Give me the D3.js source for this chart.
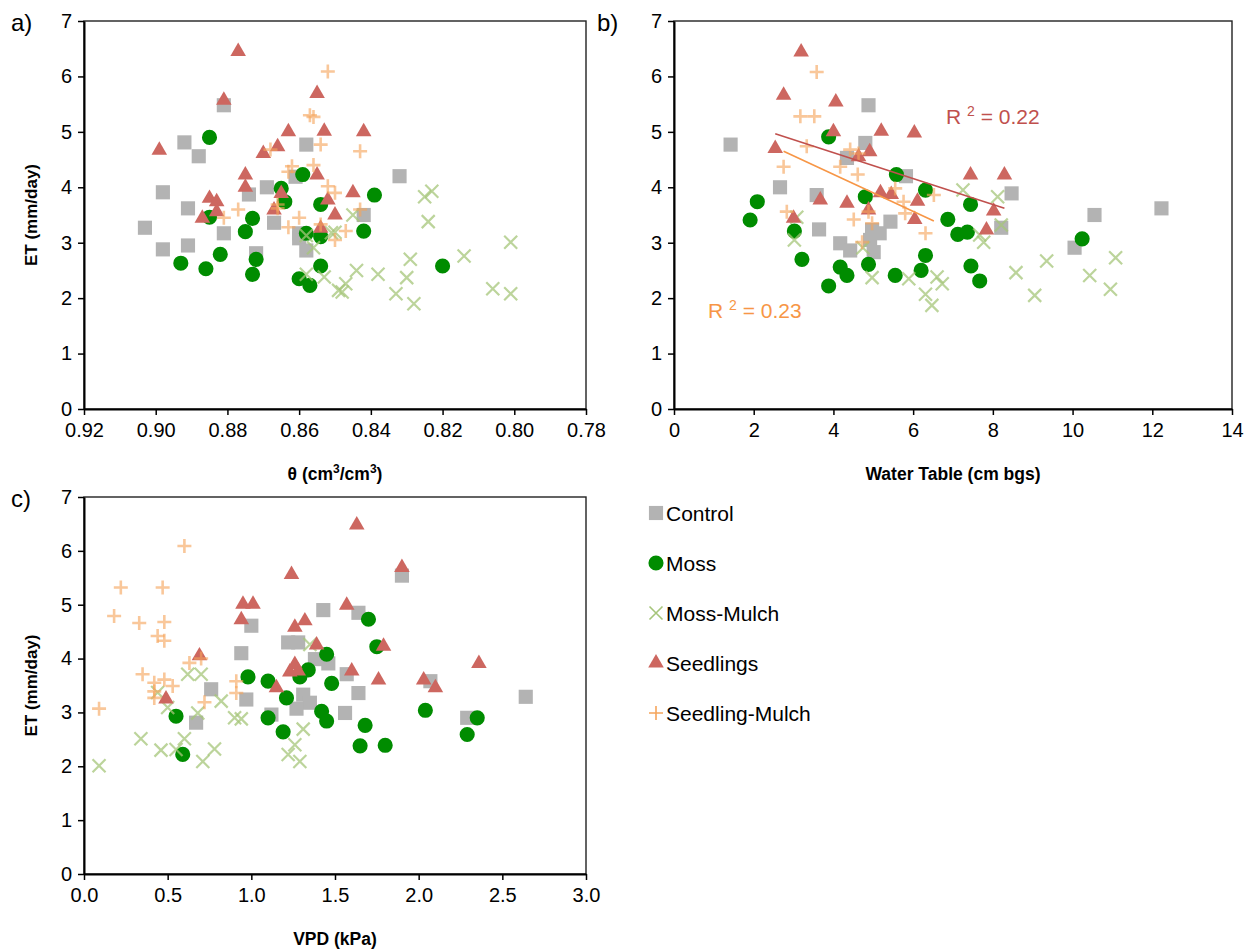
<!DOCTYPE html>
<html>
<head>
<meta charset="utf-8">
<script src="https://cdn.jsdelivr.net/npm/d3@7"></script>
<style>
  body { margin: 0; background: #fff; }
  svg { font-family: "Liberation Sans", Arial, sans-serif; }
</style>
</head>
<body>
<svg id="chart" width="1257" height="951"></svg>
<script>
// series names, in drawing order
var seriesNames = ['Control', 'Moss', 'Moss-Mulch', 'Seedlings', 'Seedling-Mulch']
var etTicks = [0, 1, 2, 3, 4, 5, 6, 7]
var thetaTicks = [0.92, 0.90, 0.88, 0.86, 0.84, 0.82, 0.80, 0.78]
var wtTicks = [0, 2, 4, 6, 8, 10, 12, 14]
var vpdTicks = [0, 0.5, 1, 1.5, 2, 2.5, 3]

// a) theta vs ET  [theta, ET]
var aControl = [[0.881,5.48],[0.892,4.81],[0.888,4.56],[0.858,4.77],[0.898,3.91],[0.869,4.00],[0.874,3.87],[0.861,4.19],[0.891,3.62],[0.903,3.27],[0.881,3.17],[0.867,3.36],[0.891,2.95],[0.898,2.88],[0.860,3.08],[0.858,2.86],[0.872,2.81],[0.860,3.17],[0.832,4.20],[0.842,3.50]]
var aMoss = [[0.885,4.90],[0.859,4.23],[0.865,3.98],[0.864,3.74],[0.854,3.69],[0.885,3.46],[0.873,3.44],[0.875,3.20],[0.893,2.63],[0.886,2.53],[0.882,2.79],[0.872,2.70],[0.873,2.43],[0.858,3.17],[0.854,3.11],[0.854,2.58],[0.860,2.35],[0.857,2.23],[0.839,3.86],[0.842,3.21],[0.820,2.58]]
var aMossMulch = [[0.858,3.13],[0.856,2.91],[0.851,3.18],[0.858,2.43],[0.853,2.38],[0.849,2.14],[0.845,3.50],[0.850,3.19],[0.825,3.83],[0.823,3.93],[0.824,3.38],[0.829,2.70],[0.814,2.76],[0.801,3.01],[0.844,2.50],[0.838,2.43],[0.830,2.37],[0.847,2.26],[0.848,2.11],[0.833,2.08],[0.828,1.90],[0.806,2.17],[0.801,2.08]]
var aSeedlings = [[0.877,6.45],[0.881,5.57],[0.899,4.67],[0.855,5.69],[0.863,5.00],[0.853,5.01],[0.866,4.73],[0.870,4.61],[0.875,4.22],[0.875,4.00],[0.855,4.22],[0.865,3.89],[0.852,3.77],[0.885,3.80],[0.883,3.74],[0.883,3.56],[0.887,3.44],[0.867,3.59],[0.850,3.50],[0.854,3.26],[0.842,5.00],[0.845,3.90]]
var aSeedMulch = [[0.852,6.09],[0.857,5.30],[0.856,5.27],[0.854,4.77],[0.868,4.68],[0.862,4.38],[0.863,4.28],[0.856,4.40],[0.852,4.02],[0.850,3.90],[0.866,3.69],[0.866,3.62],[0.877,3.60],[0.881,3.45],[0.860,3.45],[0.863,3.28],[0.854,3.33],[0.850,3.05],[0.843,4.65],[0.843,3.60],[0.847,3.21]]

// b) water table vs ET  [cm bgs, ET]
var bControl = [[1.42,4.77],[4.88,5.48],[4.80,4.80],[4.34,4.53],[5.82,4.20],[2.66,4.00],[3.58,3.86],[3.64,3.24],[5.43,3.38],[4.97,3.23],[5.16,3.17],[4.17,2.99],[4.42,2.86],[4.92,3.05],[5.01,2.83],[8.47,3.89],[8.21,3.27],[10.55,3.50],[12.23,3.62],[10.05,2.91]]
var bMoss = [[3.88,4.91],[5.58,4.23],[6.31,3.95],[4.80,3.83],[2.09,3.74],[1.91,3.41],[3.02,3.21],[6.87,3.42],[7.12,3.15],[3.21,2.70],[4.17,2.56],[4.34,2.41],[4.88,2.61],[5.55,2.41],[6.31,2.77],[6.20,2.50],[3.88,2.22],[7.44,3.69],[7.36,3.19],[7.45,2.58],[7.67,2.31],[10.24,3.07]]
var bMossMulch = [[3.08,3.46],[3.02,3.05],[4.74,2.91],[4.97,2.37],[5.89,2.35],[6.60,2.38],[6.73,2.26],[6.31,2.07],[6.47,1.87],[7.25,3.95],[8.12,3.83],[8.21,3.32],[7.67,3.14],[7.77,3.01],[8.58,2.46],[9.35,2.67],[9.05,2.05],[10.43,2.41],[11.08,2.73],[10.95,2.16]]
var bSeedlings = [[3.19,6.44],[2.75,5.66],[4.06,5.54],[5.20,5.01],[6.03,4.98],[4.00,5.00],[2.54,4.70],[4.63,4.55],[4.91,4.64],[5.18,3.90],[5.45,3.87],[6.11,3.75],[3.67,3.77],[4.34,3.71],[4.88,3.59],[6.04,3.42],[3.00,3.44],[7.44,4.22],[8.29,4.22],[8.02,3.57],[7.84,3.23]]
var bSeedMulch = [[3.58,6.08],[3.17,5.28],[3.52,5.28],[3.33,4.74],[4.42,4.68],[4.63,4.61],[2.75,4.37],[4.17,4.37],[4.61,4.23],[5.55,3.98],[6.52,3.86],[5.76,3.74],[2.83,3.56],[4.88,3.56],[5.80,3.53],[4.51,3.42],[6.31,3.17],[4.97,3.35],[4.72,3.01]]
// linear trends shown in b)  [slope, intercept, R2 label]
var trendSeedlings = [-0.234, 5.56, '0.22']
var trendSeedMulch = [-0.334, 5.57, '0.23']

// c) VPD vs ET  [kPa, ET]
var cControl = [[1.43,4.90],[1.00,4.61],[0.94,4.10],[1.22,4.30],[1.28,4.30],[1.38,3.99],[1.46,3.91],[0.76,3.43],[0.97,3.24],[1.31,3.33],[1.35,3.18],[1.27,3.07],[1.12,2.96],[0.67,2.81],[1.90,5.54],[1.64,4.85],[1.57,3.71],[1.64,3.36],[1.56,2.99],[2.07,3.58],[2.64,3.29],[2.29,2.90]]
var cMoss = [[1.45,4.08],[1.34,3.79],[0.98,3.66],[1.10,3.58],[1.29,3.66],[1.21,3.27],[1.48,3.54],[0.55,2.93],[1.10,2.90],[1.42,3.02],[1.45,2.84],[1.19,2.64],[0.59,2.22],[1.70,4.73],[1.75,4.22],[2.04,3.04],[1.68,2.76],[1.65,2.38],[1.80,2.39],[2.35,2.90],[2.29,2.59]]
var cMossMulch = [[0.09,2.01],[0.34,2.51],[0.46,2.30],[0.60,2.51],[0.55,2.31],[0.71,2.09],[0.78,2.32],[0.62,3.71],[0.70,3.71],[0.44,3.37],[0.50,3.09],[0.68,2.99],[0.82,3.21],[0.90,2.90],[0.94,2.88],[1.35,4.26],[1.31,2.69],[1.26,2.40],[1.22,2.22],[1.29,2.09]]
var cSeedlings = [[1.24,5.56],[0.95,5.01],[1.01,5.01],[0.94,4.72],[1.26,4.58],[1.32,4.70],[1.39,4.25],[0.69,4.05],[1.26,3.89],[1.23,3.75],[1.28,3.77],[1.15,3.46],[0.49,3.25],[1.63,6.48],[1.90,5.69],[1.57,4.99],[1.79,4.23],[1.60,3.77],[1.76,3.60],[2.03,3.60],[2.10,3.46],[2.36,3.91]]
var cSeedMulch = [[0.60,6.09],[0.22,5.32],[0.47,5.32],[0.18,4.79],[0.33,4.66],[0.48,4.68],[0.44,4.42],[0.48,4.33],[0.63,3.92],[0.70,4.00],[0.35,3.71],[0.42,3.55],[0.48,3.61],[0.53,3.49],[0.42,3.39],[0.42,3.27],[0.91,3.58],[0.91,3.36],[0.72,3.19],[0.09,3.07]]

var svg = d3.select('#chart')

var colors = {
  'Control': '#b3b3b3',
  'Moss': '#008c00',
  'Moss-Mulch': '#a6c57a',
  'Seedlings': '#cd6760',
  'Seedling-Mulch': '#f5a55c'
}

/**
 * Draws one marker of the given series at the origin of g
 */
function drawMarker (g, name, legend) {
  var c = colors[name]
  if (name === 'Control') {
    g.append('path').attr('d', d3.symbol(d3.symbolSquare, 200)()).attr('fill', c)
  } else if (name === 'Moss') {
    g.append('path').attr('d', d3.symbol(d3.symbolCircle, 180)()).attr('fill', c)
  } else if (name === 'Seedlings') {
    g.append('path').attr('d', d3.symbol(d3.symbolTriangle, 105)()).attr('fill', c)
  } else if (name === 'Moss-Mulch') {
    var r = 6.5
    g.append('path').attr('d', `M${-r},${-r}L${r},${r}M${-r},${r}L${r},${-r}`)
      .attr('stroke', c).attr('stroke-width', legend ? 1.6 : 2.2).attr('fill', 'none')
      .attr('opacity', legend ? 1 : 0.75)
  } else {
    var p = 7
    g.append('path').attr('d', `M${-p},0L${p},0M0,${-p}L0,${p}`)
      .attr('stroke', c).attr('stroke-width', legend ? 1.6 : 2.6).attr('fill', 'none')
      .attr('opacity', legend ? 1 : 0.62)
  }
}

/**
 * Draws one scatter panel with its frame, axes and series
 */
function drawPanel (opt) {
  var x = d3.scaleLinear().domain(opt.xDomain).range([opt.left, opt.right])
  var y = d3.scaleLinear().domain([0, 7]).range([opt.bottom, opt.top])

  // frame
  svg.append('rect')
    .attr('x', opt.left).attr('y', opt.top)
    .attr('width', opt.right - opt.left).attr('height', opt.bottom - opt.top)
    .attr('fill', 'none').attr('stroke', '#222').attr('stroke-width', 1.4)

  var xAxis = svg.append('g')
    .attr('transform', `translate(0,${opt.bottom})`)
    .call(d3.axisBottom(x).tickValues(opt.xTicks).tickFormat(opt.xFormat).tickSize(6).tickSizeOuter(0).tickPadding(8))
  var yAxis = svg.append('g')
    .attr('transform', `translate(${opt.left},0)`)
    .call(d3.axisLeft(y).tickValues(etTicks).tickFormat(d3.format('d')).tickSize(6).tickSizeOuter(0).tickPadding(6))
  ;[xAxis, yAxis].forEach(a => {
    a.select('.domain').attr('stroke', '#000').attr('stroke-width', 2)
    a.selectAll('.tick line').attr('stroke', '#000').attr('stroke-width', 1.5)
    a.selectAll('.tick text').attr('font-size', 20).attr('fill', '#000')
      .attr('font-family', '"Liberation Sans", Arial, sans-serif')
  })

  // series, in Excel order
  opt.series.forEach(function (data, i) {
    var name = seriesNames[i]
    svg.append('g').selectAll('g')
      .data(data)
      .join('g')
      .attr('transform', d => `translate(${x(d[0])},${y(d[1])})`)
      .each(function () { drawMarker(d3.select(this), name, false) })
  })

  // axis titles and panel letter
  svg.append('text').attr('x', (opt.left + opt.right) / 2).attr('y', opt.bottom + 71)
    .attr('text-anchor', 'middle').attr('font-size', 17.5).attr('font-weight', 'bold')
    .html(opt.xTitle)
  if (opt.yTitle) {
    svg.append('text')
      .attr('transform', `translate(37,${(opt.top + opt.bottom) / 2}) rotate(-90)`)
      .attr('text-anchor', 'middle').attr('font-size', 17).attr('font-weight', 'bold')
      .text(opt.yTitle)
  }
  svg.append('text').attr('x', opt.letterX).attr('y', opt.top + 10)
    .attr('font-size', 24).text(opt.letter)

  return { x: x, y: y }
}

drawPanel({
  left: 84, right: 586, top: 21, bottom: 409,
  xDomain: [0.92, 0.78], xTicks: thetaTicks, xFormat: d3.format('.2f'),
  series: [aControl, aMoss, aMossMulch, aSeedlings, aSeedMulch],
  xTitle: 'θ (cm<tspan font-size="12" dy="-7">3</tspan><tspan dy="7">/cm</tspan><tspan font-size="12" dy="-7">3</tspan><tspan dy="7">)</tspan>',
  yTitle: 'ET (mm/day)', letter: 'a)', letterX: 11
})

var pb = drawPanel({
  left: 674, right: 1232, top: 21, bottom: 409,
  xDomain: [0, 14], xTicks: wtTicks, xFormat: d3.format('d'),
  series: [bControl, bMoss, bMossMulch, bSeedlings, bSeedMulch],
  xTitle: 'Water Table (cm bgs)', yTitle: null, letter: 'b)', letterX: 597
})

drawPanel({
  left: 84, right: 586, top: 497, bottom: 874,
  xDomain: [0, 3], xTicks: vpdTicks, xFormat: d3.format('.1f'),
  series: [cControl, cMoss, cMossMulch, cSeedlings, cSeedMulch],
  xTitle: 'VPD (kPa)', yTitle: 'ET (mm/day)', letter: 'c)', letterX: 11
})

// trend lines for panel b
;[[trendSeedlings, bSeedlings, '#c0504d', 946, 124], [trendSeedMulch, bSeedMulch, '#f79646', 708, 318]].forEach(function (t) {
  var coef = t[0]
  var ext = d3.extent(t[1], d => d[0])
  svg.append('line')
    .attr('x1', pb.x(ext[0])).attr('y1', pb.y(coef[1] + coef[0] * ext[0]))
    .attr('x2', pb.x(ext[1])).attr('y2', pb.y(coef[1] + coef[0] * ext[1]))
    .attr('stroke', t[2]).attr('stroke-width', 1.6)
  var lbl = svg.append('text').attr('x', t[3]).attr('y', t[4]).attr('font-size', 21).attr('fill', t[2])
  lbl.append('tspan').text('R ')
  lbl.append('tspan').attr('font-size', 14).attr('dy', -8).text('2')
  lbl.append('tspan').attr('dy', 8).text(' = ' + coef[2])
})

// legend
var legend = svg.append('g').selectAll('g')
  .data(seriesNames)
  .join('g')
  .attr('transform', (d, i) => `translate(656,${513 + i * 50})`)
legend.each(function (d) { drawMarker(d3.select(this), d, true) })
legend.append('text')
  .attr('x', 10).attr('y', 8)
  .attr('font-size', 21)
  .text(d => d)
</script>
</body>
</html>
